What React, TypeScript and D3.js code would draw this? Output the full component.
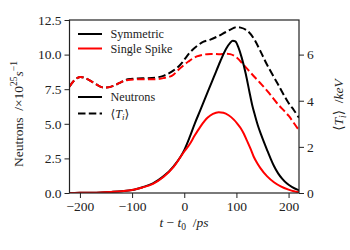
import React, { useEffect, useRef } from 'react';
import * as d3 from 'd3';

// neutron rate, x10^25 s^-1
const symNeutronT = [-220, -200, -180, -160, -140, -120, -100, -80, -60, -40, -20, 0, 10, 20, 31, 45, 57, 69, 80, 88, 93, 98, 104, 110, 118, 125, 130, 136, 141, 147, 153, 160, 166, 172, 180, 188, 197, 207, 217, 220];
const symNeutrons = [0.0, 0.01, 0.02, 0.04, 0.08, 0.13, 0.21, 0.42, 0.7, 1.2, 1.95, 3.1, 4.0, 5.0, 6.0, 7.3, 8.4, 9.5, 10.4, 10.85, 11.0, 10.95, 10.5, 9.8, 8.6, 7.3, 6.4, 5.55, 4.9, 4.25, 3.65, 3.0, 2.45, 1.95, 1.42, 1.02, 0.68, 0.42, 0.24, 0.2];

const spikeNeutronT = [-220, -200, -180, -160, -140, -120, -100, -80, -60, -40, -20, 0, 10, 20, 31, 45, 55, 66, 75, 85, 95, 102, 108, 114, 120, 127, 133, 140, 146, 159, 172, 185, 200, 210, 220];
const spikeNeutrons = [0.0, 0.01, 0.02, 0.04, 0.08, 0.13, 0.21, 0.4, 0.66, 1.15, 1.9, 3.0, 3.5, 4.15, 4.8, 5.45, 5.72, 5.84, 5.8, 5.62, 5.3, 5.0, 4.7, 4.3, 3.8, 3.2, 2.64, 2.15, 1.8, 1.2, 0.78, 0.48, 0.24, 0.12, 0.05];

// ion temperature, keV
const symTiT = [-220, -210, -200, -190, -175, -160, -149, -135, -120, -108, -80, -56, -40, -24, -8, 2, 12, 25, 37, 50, 63, 80, 98, 108, 120, 133, 146, 159, 180, 200, 210, 220];
const symTi = [4.61, 4.9, 5.03, 4.98, 4.8, 4.6, 4.57, 4.65, 4.82, 4.93, 4.97, 5.0, 5.08, 5.26, 5.55, 5.84, 6.12, 6.38, 6.56, 6.65, 6.78, 6.98, 7.18, 7.17, 7.05, 6.71, 6.15, 5.55, 4.7, 3.9, 3.6, 3.26];

const spikeTiT = [-220, -210, -200, -190, -175, -160, -149, -135, -120, -108, -80, -56, -40, -24, -8, 8, 24, 44, 66, 88, 100, 114, 130, 146, 162, 178, 200, 217, 220];
const spikeTi = [4.61, 4.9, 5.03, 4.98, 4.8, 4.6, 4.57, 4.65, 4.82, 4.9, 4.93, 4.93, 4.98, 5.08, 5.41, 5.7, 5.92, 6.02, 6.02, 6.02, 5.88, 5.55, 5.15, 4.76, 4.35, 3.89, 3.35, 2.81, 2.73];

const xTicks = [-200, -100, 0, 100, 200];
const leftTicks = [0, 2.5, 5, 7.5, 10, 12.5];
const rightTicks = [0, 2, 4, 6];

const FONT = "'Liberation Serif', 'Times New Roman', 'DejaVu Serif', serif";

const App: React.FC = () => {
  const ref = useRef<SVGSVGElement | null>(null);

  useEffect(() => {
    if (!ref.current) return;
    const svg = d3.select(ref.current);
    svg.selectAll('*').remove();

    const margin = { top: 20, right: 51, bottom: 57, left: 69.5 };
    const width = 350, height = 250;
    const w = width - margin.left - margin.right;
    const h = height - margin.top - margin.bottom;

    const x = d3.scaleLinear().domain([-220, 220]).range([0, w]);
    const yL = d3.scaleLinear().domain([0, 12.5]).range([h, 0]);
    const yR = d3.scaleLinear().domain([0, 7.5]).range([h, 0]);

    const g = svg.append('g').attr('transform', `translate(${margin.left},${margin.top})`);

    const clip = svg.append('defs').append('clipPath').attr('id', 'plotclip');
    clip.append('rect').attr('width', w).attr('height', h);

    const plot = g.append('g').attr('clip-path', 'url(#plotclip)');

    const lineL = d3.line<[number, number]>().x(d => x(d[0])).y(d => yL(d[1])).curve(d3.curveMonotoneX);
    const lineR = d3.line<[number, number]>().x(d => x(d[0])).y(d => yR(d[1])).curve(d3.curveCatmullRom);
    const zip = (a: number[], b: number[]) => a.map((t, i) => [t, b[i]] as [number, number]);

    const dash = '7.5,3.3';
    plot.append('path').attr('d', lineR(zip(symTiT, symTi))!).attr('fill', 'none').attr('stroke', '#000').attr('stroke-width', 2).attr('stroke-dasharray', dash);
    plot.append('path').attr('d', lineR(zip(spikeTiT, spikeTi))!).attr('fill', 'none').attr('stroke', '#ff0000').attr('stroke-width', 2).attr('stroke-dasharray', dash);
    plot.append('path').attr('d', lineL(zip(symNeutronT, symNeutrons))!).attr('fill', 'none').attr('stroke', '#000').attr('stroke-width', 2);
    plot.append('path').attr('d', lineL(zip(spikeNeutronT, spikeNeutrons))!).attr('fill', 'none').attr('stroke', '#ff0000').attr('stroke-width', 2);

    // axes
    const styleAxis = (sel: d3.Selection<SVGGElement, unknown, null, undefined>) => {
      sel.attr('font-family', null).attr('font-size', null);
      sel.select('.domain').remove();
      sel.selectAll('line').attr('stroke', '#222').attr('stroke-width', 1);
      sel.selectAll('text').attr('fill', '#222').style('font-family', FONT).style('font-size', '13.5px');
    };
    const fmtMinus = (v: number) => (v < 0 ? '\u2212' + Math.abs(v) : String(v));

    g.append('g').attr('transform', `translate(0,${h})`)
      .call(d3.axisBottom(x).tickValues(xTicks).tickSize(5).tickPadding(3).tickFormat(d => fmtMinus(+d)))
      .call(styleAxis);
    g.append('g')
      .call(d3.axisLeft(yL).tickValues(leftTicks).tickSize(5).tickPadding(3).tickFormat(d3.format('.1f')))
      .call(styleAxis);
    g.append('g').attr('transform', `translate(${w},0)`)
      .call(d3.axisRight(yR).tickValues(rightTicks).tickSize(5).tickPadding(3).tickFormat(d => String(d)))
      .call(styleAxis);

    g.append('rect').attr('width', w).attr('height', h).attr('fill', 'none').attr('stroke', '#222').attr('stroke-width', 1.2);

    // legend
    const legend = [
      { label: 'Symmetric', color: '#000', y: 34 },
      { label: 'Single Spike', color: '#ff0000', y: 48.5 },
      { label: 'Neutrons', color: '#000', y: 97 },
    ];
    legend.forEach(l => {
      svg.append('line').attr('x1', 78).attr('x2', 102).attr('y1', l.y).attr('y2', l.y)
        .attr('stroke', l.color).attr('stroke-width', 2);
      svg.append('text').attr('x', 110.5).attr('y', l.y + 4).style('font-family', FONT).style('font-size', '12.2px')
        .attr('fill', '#222').text(l.label);
    });
    svg.append('line').attr('x1', 78).attr('x2', 102).attr('y1', 113.5).attr('y2', 113.5)
      .attr('stroke', '#000').attr('stroke-width', 2).attr('stroke-dasharray', dash);
    const ti = svg.append('text').attr('x', 110.5).attr('y', 117.5).style('font-family', FONT).style('font-size', '12.2px').attr('fill', '#222');
    ti.append('tspan').text('\u27E8');
    ti.append('tspan').attr('font-style', 'italic').text('T');
    ti.append('tspan').attr('font-style', 'italic').style('font-size', '9px').attr('dy', 2.5).text('i');
    ti.append('tspan').attr('dy', -2.5).text('\u27E9');

    // x label
    const xl = svg.append('text').attr('x', 184).attr('y', 227).attr('text-anchor', 'middle')
      .style('font-family', FONT).style('font-size', '13.5px').attr('fill', '#222');
    xl.append('tspan').attr('font-style', 'italic').text('t');
    xl.append('tspan').text(' \u2212 ');
    xl.append('tspan').attr('font-style', 'italic').text('t');
    xl.append('tspan').style('font-size', '9.5px').attr('dy', 2.5).text('0');
    xl.append('tspan').attr('dy', -2.5).text('\u00A0\u00A0/');
    xl.append('tspan').attr('font-style', 'italic').text('ps');

    // left label
    const yl = svg.append('text').attr('transform', 'translate(23,114) rotate(-90)').attr('text-anchor', 'middle')
      .style('font-family', FONT).style('font-size', '13.5px').attr('fill', '#222');
    yl.append('tspan').text('Neutrons\u00A0\u00A0/\u00D710');
    yl.append('tspan').style('font-size', '9.5px').attr('dy', -6).text('25');
    yl.append('tspan').attr('font-style', 'italic').attr('dy', 6).text('s');
    yl.append('tspan').style('font-size', '9.5px').attr('dy', -6).text('\u22121');

    // right label
    const yr = svg.append('text').attr('transform', 'translate(343,105) rotate(-90)').attr('text-anchor', 'middle')
      .style('font-family', FONT).style('font-size', '13.5px').attr('fill', '#222');
    yr.append('tspan').text('\u27E8');
    yr.append('tspan').attr('font-style', 'italic').text('T');
    yr.append('tspan').attr('font-style', 'italic').style('font-size', '9.5px').attr('dy', 2.5).text('i');
    yr.append('tspan').attr('dy', -2.5).text('\u27E9\u00A0\u00A0/');
    yr.append('tspan').attr('font-style', 'italic').text('keV');
  }, []);

  return (
    <svg ref={ref} width={350} height={250}
      style={{ position: 'absolute', left: 0, top: 0, background: '#fff' }} />
  );
};

export default App;
